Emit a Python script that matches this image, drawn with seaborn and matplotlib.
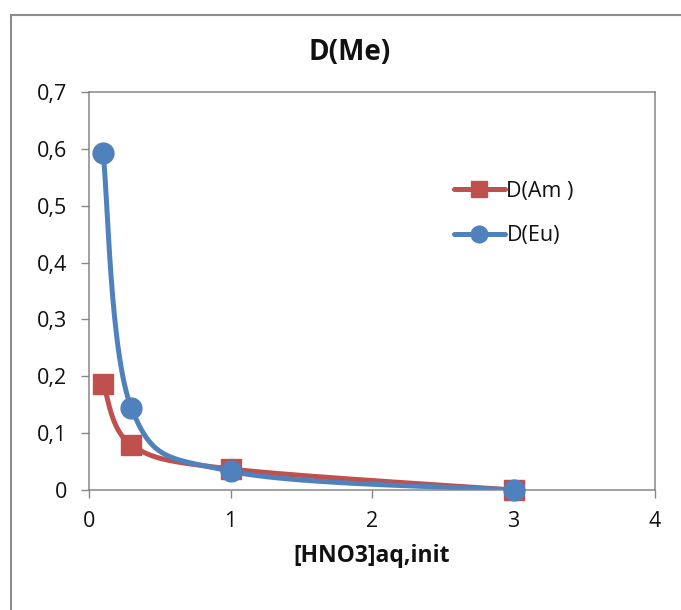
import numpy as np
import pandas as pd
import matplotlib
matplotlib.use('Agg')
import matplotlib.pyplot as plt
from matplotlib.lines import Line2D
from matplotlib.patches import Rectangle
import seaborn as sns

# values
hno3 = [0.1, 0.3, 1.0, 3.0]
d_am = [0.187, 0.079, 0.037, 0.0]
d_eu = [0.592, 0.144, 0.033, 0.0]

series_names = ['D(Am )', 'D(Eu)']
series_colors = ['#C0504D', '#4F81BD']
series_markers = ['s', 'o']


def smooth(x, y, n=60):
    # Excel-like smoothed line: Catmull-Rom style bezier between points
    x = np.asarray(x, float)
    y = np.asarray(y, float)
    pts = np.column_stack([x, y])
    out = []
    for i in range(len(pts) - 1):
        p0 = pts[i - 1] if i > 0 else pts[i]
        p1 = pts[i]
        p2 = pts[i + 1]
        p3 = pts[i + 2] if i + 2 < len(pts) else pts[i + 1]
        c1 = p1 + (p2 - p0) / 6
        c2 = p2 - (p3 - p1) / 6
        t = np.linspace(0, 1, n)[:, None]
        seg = ((1 - t) ** 3) * p1 + 3 * ((1 - t) ** 2) * t * c1 + 3 * (1 - t) * t ** 2 * c2 + t ** 3 * p2
        out.append(seg if i == 0 else seg[1:])
    out = np.vstack(out)
    return out[:, 0], out[:, 1]


sns.set_theme(style='white')
plt.rcParams['font.family'] = ['Open Sans', 'DejaVu Sans']

fig = plt.figure(figsize=(6.81, 6.10), dpi=100)
ax = fig.add_axes([89 / 681, 1 - 490 / 610, (655 - 89) / 681, (490 - 92) / 610])

# outer chart border (cropped on the right and bottom)
fig.patches.append(Rectangle((11 / 681, -0.05), 1.2, 1 - 15 / 610 + 0.05,
                             transform=fig.transFigure, fill=False,
                             edgecolor='#8c8c8c', linewidth=1.5))

handles = []
for ys, name, color, marker in zip([d_am, d_eu], series_names, series_colors, series_markers):
    sx, sy = smooth(hno3, ys)
    curve = pd.DataFrame({'x': sx, 'y': sy})
    sns.lineplot(data=curve, x='x', y='y', sort=False, color=color, linewidth=3.6, ax=ax)
    ax.plot(hno3, ys, linestyle='none', marker=marker, markersize=15,
            color=color, markeredgecolor=color, clip_on=False, zorder=3)
    handles.append(Line2D([0], [0], color=color, linewidth=3.6, marker=marker,
                          markersize=12, markeredgecolor=color, label=name))

ax.set_xlim(0, 4)
ax.set_ylim(0, 0.7)
ax.set_xticks([0, 1, 2, 3, 4])
ax.set_yticks(np.arange(0, 0.71, 0.1))
ax.set_xticklabels(['0', '1', '2', '3', '4'])
ax.set_yticklabels(['0' if v == 0 else f'{v:.1f}'.replace('.', ',') for v in np.arange(0, 0.71, 0.1)])
ax.tick_params(axis='both', direction='out', length=6, width=1, color='#868686',
               labelsize=15.5, labelcolor='#111111', left=True, bottom=True)
ax.tick_params(axis='y', pad=10)
ax.tick_params(axis='x', pad=9)

for sp in ax.spines.values():
    sp.set_color('#868686')
    sp.set_linewidth(1.1)

ax.set_xlabel('[HNO3]aq,init', fontsize=16.5, fontweight='bold', labelpad=9, color='#111111')
ax.set_ylabel('')
fig.text(350 / 681, 1 - 53 / 610, 'D(Me)', ha='center', va='center',
         fontsize=20, fontweight='bold', color='#111111')

ax.legend(handles=handles, loc='center left', bbox_to_anchor=(0.61, 0.695), frameon=False,
          fontsize=15.5, handlelength=2.4, labelspacing=1.1, handletextpad=0.05,
          labelcolor='#111111')

fig.savefig('out.png', dpi=100)
